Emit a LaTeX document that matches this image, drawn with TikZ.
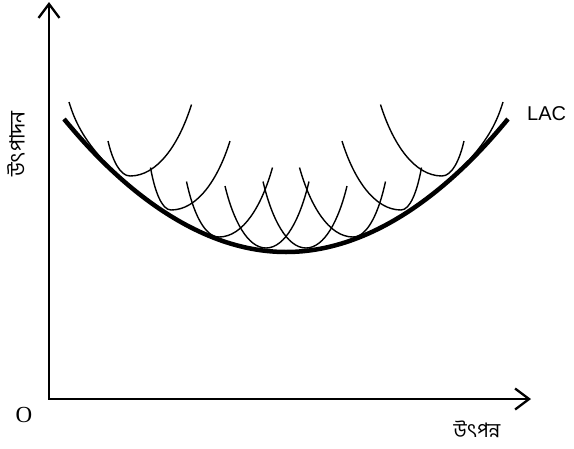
\documentclass[tikz,border=0pt]{standalone}
\usepackage{fontspec}
\setmainfont{Liberation Serif}
\newfontfamily\bnfont[Script=Bengali]{Hind Siliguri}
\newfontfamily\sansf{Liberation Sans}
\usetikzlibrary{arrows.meta}
\newcommand{\sacurve}[6]{%
 \pgfmathsetmacro{\sacA}{#1+0.2*(#3-#1)}%
 \pgfmathsetmacro{\sacB}{#2+0.55*(#4-#2)}%
 \pgfmathsetmacro{\sacC}{#3-0.45*(#3-#1)}%
 \pgfmathsetmacro{\sacD}{#3+0.45*(#5-#3)}%
 \pgfmathsetmacro{\sacE}{#5-0.2*(#5-#3)}%
 \pgfmathsetmacro{\sacF}{#6+0.55*(#4-#6)}%
 \draw[sac] (#1,#2) .. controls (\sacA,\sacB) and (\sacC,#4) .. (#3,#4) .. controls (\sacD,#4) and (\sacE,\sacF) .. (#5,#6);%
}
\begin{document}
\begin{tikzpicture}[x=1pt,y=-1pt,
  axis/.style={line width=2.3pt,
    {Straight Barb[length=14pt,width=21pt,line width=2.3pt]}-{Straight Barb[length=14pt,width=21pt,line width=2.3pt]}},
  sac/.style={line width=1.4pt},
  lac/.style={line width=4.5pt},
  lbl/.style={inner sep=0pt}]
\useasboundingbox (0,0) rectangle (574,448);
% axes
\coordinate (O) at (49,399);
\coordinate (ytip) at (49,2);
\coordinate (xtip) at (531,399);
\draw[axis] (ytip) -- (O) -- (xtip);
% long-run average cost
\coordinate (lacL) at (64,119);
\coordinate (lacB) at (286,252);
\coordinate (lacR) at (508,119);
\draw[lac] (lacL) parabola bend (lacB) (lacR);
% short-run curves
\sacurve{108}{141}{130}{176}{191.5}{104.5}
\sacurve{150.5}{167.5}{171}{210}{230}{141}
\sacurve{186.5}{181.5}{219}{237}{272.5}{167.5}
\sacurve{225}{186}{266}{248}{309}{181.5}
\sacurve{263}{181.5}{306}{248}{347}{186}
\sacurve{299.5}{167.5}{353}{237}{385.5}{181.5}
\sacurve{342}{141}{401}{210}{421.5}{167.5}
\sacurve{380.5}{104.5}{442}{176}{464}{141}
% partial arcs at the ends
\draw[sac] (470,159) .. controls (488,139) and (497,122) .. (503,102);
\draw[sac] (102,159) .. controls (84,139) and (75,122) .. (69,102);
% labels
\node[lbl, anchor=west, font=\sansf\fontsize{20}{24}\selectfont] (lac) at (527,114) {LAC};
\node[lbl, font=\fontsize{23}{26}\selectfont] (o) at (24,415) {O};
\node[lbl, rotate=90, font=\bnfont\fontsize{21}{24}\selectfont] (ylab) at (16,144) {উৎপাদন};
\node[lbl, font=\bnfont\fontsize{20}{22}\selectfont] (xlab) at (477,429) {উৎপন্ন};
\end{tikzpicture}
\end{document}
